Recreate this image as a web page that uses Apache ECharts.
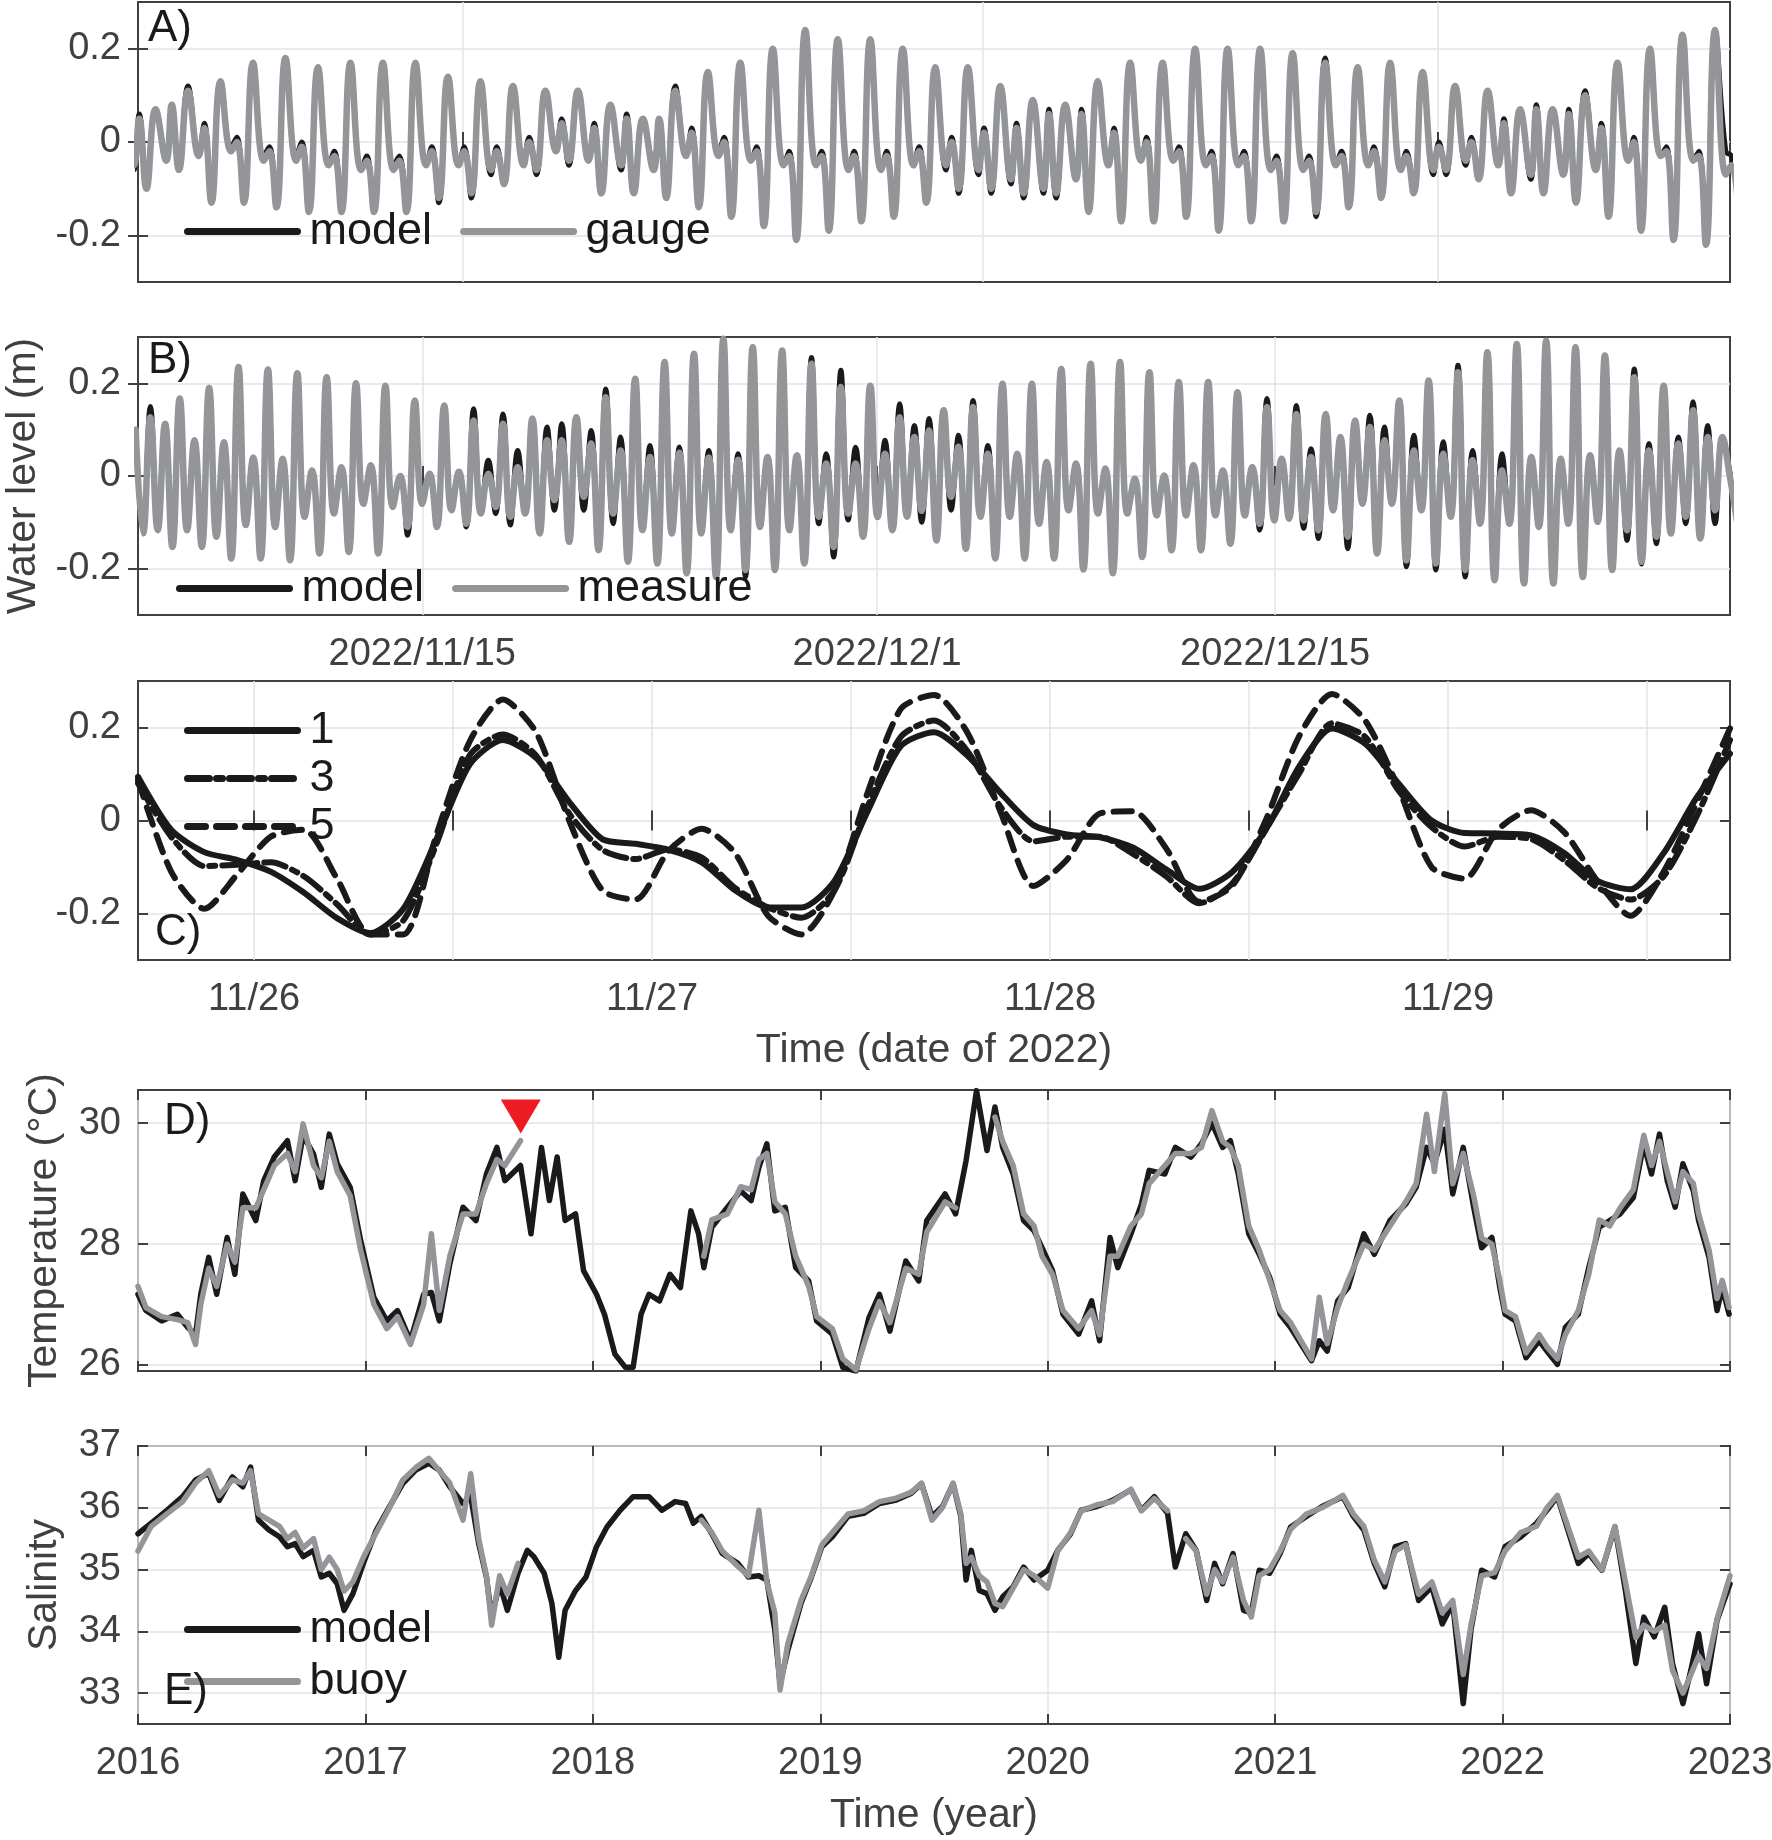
<!DOCTYPE html>
<html>
<head>
<meta charset="utf-8">
<script src="https://cdn.jsdelivr.net/npm/echarts@6/dist/echarts.min.js"></script>
<style>
html, body { margin: 0; padding: 0; background: #fff; }
#main { width: 1772px; height: 1840px; }
</style>
</head>
<body>
<div id="main"></div>
<script>
// ---- A) water level, model vs gauge: per tidal day [higher high, low 1, high 2, lower low]
var aStart = '2022-11-05 00:00', aEnd = '2022-12-24 00:00';
var aFirstPeak = -0.46;            // days after aStart of the first listed higher high
var aPhase = [0, 0.33, 0.5, 0.72]; // position of the four extremes inside a tidal day
var aGauge = [
  0.06,-0.05,0.05,-0.10,  0.07,-0.04,0.08,-0.06,  0.11,-0.03,0.03,-0.13,  0.13,-0.02,0.00,-0.13,
  0.17,-0.04,-0.02,-0.14, 0.18,-0.04,-0.01,-0.15, 0.16,-0.05,-0.03,-0.15, 0.17,-0.06,-0.04,-0.15,
  0.17,-0.06,-0.04,-0.15, 0.17,-0.05,-0.02,-0.12, 0.14,-0.05,-0.02,-0.11, 0.13,-0.06,-0.02,-0.09,
  0.12,-0.05,0.00,-0.06,  0.11,-0.02,0.04,-0.04,  0.11,-0.04,0.03,-0.11,  0.08,-0.05,0.05,-0.11,
  0.05,-0.06,0.05,-0.12,  0.11,-0.03,0.02,-0.14,  0.15,-0.03,0.00,-0.16,  0.17,-0.04,-0.02,-0.18,
  0.20,-0.05,-0.03,-0.21, 0.24,-0.05,-0.03,-0.19, 0.22,-0.06,-0.03,-0.17, 0.22,-0.06,-0.03,-0.16,
  0.20,-0.05,-0.02,-0.13, 0.16,-0.05,0.00,-0.10,  0.16,-0.06,0.02,-0.10,  0.12,-0.08,0.03,-0.11,
  0.09,-0.10,0.06,-0.11,  0.08,-0.08,0.06,-0.15,  0.13,-0.05,0.02,-0.17,  0.17,-0.04,0.00,-0.17,
  0.17,-0.04,-0.02,-0.16, 0.20,-0.05,-0.03,-0.19, 0.20,-0.05,-0.03,-0.17, 0.20,-0.06,-0.04,-0.17,
  0.19,-0.06,-0.04,-0.15, 0.17,-0.05,-0.03,-0.14, 0.16,-0.05,-0.02,-0.12, 0.17,-0.06,-0.03,-0.11,
  0.15,-0.06,-0.01,-0.06, 0.12,-0.04,0.00,-0.08,  0.11,-0.05,0.04,-0.11,  0.07,-0.07,0.07,-0.11,
  0.07,-0.07,0.06,-0.13,  0.10,-0.06,0.03,-0.16,  0.17,-0.04,0.00,-0.19,  0.20,-0.03,-0.02,-0.21,
  0.23,-0.04,-0.03,-0.22, 0.24,-0.07,-0.05,-0.15
];
var aModel = [
  0.06,-0.06,0.06,-0.09,  0.07,-0.03,0.07,-0.06,  0.12,-0.03,0.04,-0.12,  0.13,-0.01,0.01,-0.13,
  0.17,-0.03,-0.01,-0.14, 0.18,-0.03,0.00,-0.15,  0.16,-0.05,-0.02,-0.14, 0.17,-0.06,-0.03,-0.15,
  0.17,-0.05,-0.03,-0.14, 0.16,-0.05,-0.01,-0.13, 0.14,-0.05,-0.01,-0.12, 0.13,-0.07,-0.01,-0.09,
  0.12,-0.04,0.01,-0.07,  0.11,-0.02,0.05,-0.05,  0.11,-0.04,0.04,-0.11,  0.08,-0.06,0.06,-0.11,
  0.05,-0.05,0.05,-0.12,  0.12,-0.03,0.03,-0.14,  0.15,-0.02,0.01,-0.16,  0.17,-0.04,-0.01,-0.18,
  0.20,-0.05,-0.02,-0.21, 0.24,-0.05,-0.02,-0.19, 0.22,-0.06,-0.02,-0.17, 0.22,-0.06,-0.02,-0.16,
  0.20,-0.05,-0.01,-0.13, 0.16,-0.06,0.01,-0.11,  0.16,-0.07,0.03,-0.11,  0.12,-0.09,0.04,-0.12,
  0.09,-0.11,0.07,-0.12,  0.08,-0.08,0.07,-0.15,  0.13,-0.05,0.03,-0.17,  0.17,-0.04,0.01,-0.17,
  0.17,-0.04,-0.01,-0.16, 0.20,-0.05,-0.02,-0.19, 0.20,-0.05,-0.02,-0.17, 0.20,-0.06,-0.03,-0.17,
  0.19,-0.06,-0.03,-0.16, 0.18,-0.05,-0.02,-0.14, 0.16,-0.05,-0.01,-0.12, 0.17,-0.06,-0.02,-0.11,
  0.15,-0.07,0.00,-0.07,  0.12,-0.05,0.01,-0.08,  0.11,-0.05,0.05,-0.11,  0.07,-0.08,0.08,-0.11,
  0.07,-0.07,0.07,-0.13,  0.11,-0.06,0.04,-0.16,  0.17,-0.04,0.01,-0.19,  0.20,-0.03,-0.01,-0.21,
  0.23,-0.04,-0.02,-0.22, 0.24,-0.02,-0.03,-0.12
];

// ---- B) water level, model vs measure: alternating high / low water
var bStart = '2022-11-05 00:00', bEnd = '2022-12-31 00:00';
var bFirstPeak = -0.081;        // days after bStart of the first listed high water
var bPhase = [0, 0.2584];       // high, then low, inside one semi-diurnal cycle
var bMeasure = [
  0.10,-0.124,
  0.127,-0.117, 0.113,-0.153, 0.167,-0.117, 0.077,-0.153, 0.19,-0.131, 0.073,-0.178, 0.235,-0.106, 0.04,-0.178, 0.23,-0.11, 0.037,-0.182,
  0.222,-0.088, 0.012,-0.167, 0.213,-0.081, 0.019,-0.164, 0.2,-0.06, 0.023,-0.167, 0.195,-0.067, 0.0,-0.11, 0.163,-0.06, 0.005,-0.11,
  0.152,-0.074, 0.009,-0.103, 0.12,-0.081, 0.005,-0.067, 0.113,-0.088, 0.019,-0.081, 0.124,-0.124, 0.077,-0.052, 0.077,-0.142, 0.127,-0.045,
  0.07,-0.16, 0.17,-0.081, 0.055,-0.185, 0.21,-0.117, 0.041,-0.189, 0.246,-0.124, 0.05,-0.21, 0.264,-0.124, 0.04,-0.218, 0.296,-0.117,
  0.035,-0.203, 0.278,-0.11, 0.041,-0.203, 0.271,-0.117, 0.045,-0.189, 0.242,-0.088, 0.027,-0.153, 0.192,-0.081, 0.027,-0.131, 0.195,-0.088,
  0.048,-0.117, 0.127,-0.088, 0.084,-0.075,
  0.098,-0.139, 0.142,-0.045, 0.063,-0.157, 0.149,-0.088, 0.048,-0.178, 0.199,-0.088, 0.048,-0.178, 0.199,-0.103, 0.03,-0.178, 0.231,-0.074,
  0.027,-0.202, 0.242,-0.081, 0.016,-0.21, 0.246,-0.081, -0.006,-0.175, 0.224,-0.085, 0.001,-0.16, 0.203,-0.085, 0.023,-0.16, 0.203,-0.085,
  0.012,-0.146, 0.181,-0.085, 0.019,-0.103, 0.149,-0.096, 0.037,-0.092, 0.134,-0.096, 0.041,-0.117, 0.134,-0.074, 0.084,-0.131, 0.12,-0.06,
  0.106,-0.167, 0.077,-0.06, 0.163,-0.182, 0.055,-0.074, 0.206,-0.189, 0.048,-0.088, 0.224,-0.203, 0.034,-0.103, 0.267,-0.225, 0.012,-0.103,
  0.285,-0.232, 0.041,-0.11, 0.292,-0.232, 0.037,-0.103, 0.278,-0.218, 0.045,-0.099, 0.26,-0.203, 0.055,-0.117, 0.213,-0.185, 0.055,-0.131,
  0.195,-0.124, 0.07,-0.088, 0.142,-0.135, 0.084,-0.074,
  0.084, 0.0, -0.1
];
var bModel = [
  0.10,-0.124,
  0.15,-0.117, 0.113,-0.153, 0.167,-0.117, 0.077,-0.153, 0.19,-0.131, 0.073,-0.178, 0.235,-0.106, 0.04,-0.178, 0.23,-0.11, 0.037,-0.182,
  0.222,-0.088, 0.012,-0.167, 0.213,-0.081, 0.019,-0.164, 0.2,-0.06, 0.023,-0.167, 0.195,-0.067, 0.0,-0.128, 0.163,-0.06, 0.005,-0.11,
  0.152,-0.074, 0.009,-0.11, 0.145,-0.081, 0.034,-0.081, 0.134,-0.106, 0.055,-0.081, 0.124,-0.124, 0.106,-0.074, 0.113,-0.142, 0.127,-0.074,
  0.098,-0.16, 0.188,-0.103, 0.084,-0.185, 0.21,-0.117, 0.066,-0.189, 0.246,-0.124, 0.0625,-0.21, 0.264,-0.124, 0.055,-0.218, 0.296,-0.117,
  0.048,-0.218, 0.278,-0.11, 0.041,-0.203, 0.271,-0.117, 0.045,-0.189, 0.256,-0.103, 0.048,-0.175, 0.228,-0.095, 0.062,-0.131, 0.195,-0.09,
  0.077,-0.117, 0.156,-0.088, 0.109,-0.1,
  0.124,-0.139, 0.142,-0.074, 0.088,-0.157, 0.163,-0.088, 0.066,-0.178, 0.199,-0.088, 0.048,-0.178, 0.199,-0.103, 0.03,-0.178, 0.231,-0.074,
  0.027,-0.202, 0.242,-0.081, 0.016,-0.21, 0.246,-0.081, -0.006,-0.175, 0.224,-0.085, 0.001,-0.16, 0.203,-0.085, 0.023,-0.16, 0.203,-0.085,
  0.012,-0.146, 0.181,-0.085, 0.019,-0.117, 0.167,-0.096, 0.037,-0.092, 0.152,-0.113, 0.059,-0.135, 0.134,-0.074, 0.084,-0.157, 0.12,-0.06,
  0.131,-0.167, 0.106,-0.06, 0.163,-0.196, 0.088,-0.074, 0.206,-0.203, 0.074,-0.088, 0.239,-0.218, 0.055,-0.103, 0.267,-0.225, 0.048,-0.103,
  0.285,-0.232, 0.041,-0.11, 0.292,-0.232, 0.037,-0.103, 0.278,-0.218, 0.045,-0.099, 0.26,-0.203, 0.055,-0.139, 0.231,-0.19, 0.07,-0.146,
  0.195,-0.124, 0.084,-0.103, 0.16,-0.135, 0.109,-0.103,
  0.084, 0.01, -0.1
];
var abTicks = ['2022-11-15 00:00', '2022-12-01 00:00', '2022-12-15 00:00'];

// ---- C) three runs, every 2 hours from cStart
var cStart = '2022-11-25 17:00', cEnd = '2022-11-29 17:00';
var cStepHours = 2;
var c1 = [0.094,-0.02,-0.068,-0.085,-0.11,-0.155,-0.21,-0.242,-0.19,-0.04,0.12,0.173,0.135,0.04,-0.04,-0.05,-0.063,-0.09,-0.15,-0.187,
  -0.187,-0.13,0.02,0.16,0.19,0.14,0.06,-0.01,-0.03,-0.036,-0.058,-0.105,-0.147,-0.11,-0.02,0.115,0.198,0.165,0.08,0.0,
  -0.027,-0.028,-0.032,-0.07,-0.13,-0.148,-0.07,0.05,0.144];
var c3 = [0.08,-0.035,-0.098,-0.095,-0.09,-0.12,-0.18,-0.245,-0.215,-0.05,0.14,0.185,0.14,0.015,-0.063,-0.083,-0.062,-0.08,-0.145,-0.187,
  -0.209,-0.15,0.03,0.18,0.215,0.15,0.03,-0.045,-0.035,-0.035,-0.072,-0.12,-0.178,-0.135,-0.02,0.10,0.209,0.18,0.065,-0.014,
  -0.056,-0.035,-0.04,-0.085,-0.144,-0.17,-0.12,0.01,0.173];
var c5 = [0.087,-0.11,-0.19,-0.115,-0.035,-0.02,-0.125,-0.245,-0.245,-0.03,0.17,0.26,0.19,0.0,-0.15,-0.17,-0.065,-0.018,-0.07,-0.205,
  -0.245,-0.15,0.06,0.24,0.27,0.19,0.02,-0.141,-0.085,0.015,0.02,-0.06,-0.175,-0.14,0.0,0.18,0.272,0.215,0.07,-0.10,
  -0.125,-0.02,0.022,-0.025,-0.13,-0.205,-0.11,0.04,0.198];
var cTicks = ['2022-11-26 00:00','2022-11-26 12:00','2022-11-27 00:00','2022-11-27 12:00',
  '2022-11-28 00:00','2022-11-28 12:00','2022-11-29 00:00','2022-11-29 12:00'];
var cLabelDays = ['2022-11-26 00:00','2022-11-27 00:00','2022-11-28 00:00','2022-11-29 00:00'];

// ---- D) temperature [year, value]
var dModel = [[2016.000,27.17],[2016.035,26.9],[2016.104,26.73],[2016.173,26.84],[2016.219,26.62],[2016.253,26.5],[2016.276,27.17],[2016.311,27.78],
  [2016.346,27.17],[2016.392,28.11],[2016.426,27.5],[2016.461,28.83],[2016.518,28.39],[2016.553,29.05],[2016.599,29.44],[2016.657,29.71],
  [2016.691,29.05],[2016.726,29.8],[2016.772,29.49],[2016.806,28.94],[2016.841,29.82],[2016.876,29.33],[2016.933,28.94],[2016.979,28.06],
  [2017.037,27.12],[2017.094,26.73],[2017.141,26.9],[2017.198,26.4],[2017.256,27.17],[2017.290,27.2],[2017.325,26.73],[2017.371,27.67],
  [2017.429,28.61],[2017.486,28.39],[2017.532,29.16],[2017.578,29.6],[2017.613,29.05],[2017.682,29.3],[2017.728,28.17],[2017.774,29.6],
  [2017.809,28.72],[2017.843,29.44],[2017.878,28.39],[2017.924,28.5],[2017.959,27.56],[2018.016,27.17],[2018.051,26.84],[2018.097,26.18],
  [2018.143,25.96],[2018.177,25.96],[2018.212,26.84],[2018.247,27.17],[2018.293,27.06],[2018.339,27.5],[2018.385,27.28],[2018.431,28.55],
  [2018.465,28.17],[2018.488,27.61],[2018.523,28.28],[2018.592,28.61],[2018.650,28.88],[2018.696,28.72],[2018.730,29.27],[2018.765,29.66],
  [2018.800,28.55],[2018.846,28.61],[2018.892,27.61],[2018.949,27.39],[2018.984,26.73],[2019.053,26.51],[2019.099,25.96],[2019.157,25.9],
  [2019.214,26.78],[2019.260,27.17],[2019.306,26.56],[2019.376,27.72],[2019.433,27.39],[2019.468,28.39],[2019.549,28.83],[2019.595,28.5],
  [2019.641,29.38],[2019.687,30.54],[2019.733,29.55],[2019.768,30.27],[2019.802,29.6],[2019.848,29.16],[2019.894,28.39],[2019.940,28.22],
  [2019.975,27.94],[2020.021,27.56],[2020.067,26.84],[2020.136,26.51],[2020.193,27.06],[2020.228,26.4],[2020.274,28.11],[2020.308,27.61],
  [2020.366,28.17],[2020.412,28.66],[2020.446,29.22],[2020.515,29.16],[2020.561,29.6],[2020.630,29.44],[2020.676,29.66],[2020.722,30.0],
  [2020.769,29.6],[2020.803,29.71],[2020.838,29.16],[2020.884,28.17],[2020.930,27.83],[2020.976,27.45],[2021.022,26.84],[2021.068,26.62],
  [2021.114,26.34],[2021.160,26.07],[2021.194,26.4],[2021.229,26.23],[2021.275,27.06],[2021.321,27.28],[2021.390,28.17],[2021.436,27.83],
  [2021.505,28.39],[2021.574,28.66],[2021.620,28.94],[2021.666,29.6],[2021.700,29.33],[2021.746,29.9],[2021.781,28.83],[2021.827,29.6],
  [2021.873,28.61],[2021.908,27.94],[2021.953,28.11],[2021.988,27.28],[2022.011,26.84],[2022.057,26.73],[2022.103,26.12],[2022.161,26.4],
  [2022.195,26.23],[2022.241,26.01],[2022.276,26.62],[2022.333,26.84],[2022.379,27.61],[2022.425,28.28],[2022.471,28.39],[2022.517,28.5],
  [2022.575,28.77],[2022.621,29.66],[2022.655,29.16],[2022.690,29.82],[2022.724,29.05],[2022.759,28.61],[2022.793,29.33],[2022.839,28.88],
  [2022.862,28.39],[2022.908,27.78],[2022.943,26.9],[2022.966,27.28],[2022.996,26.84]];
var dBuoy = [[2016.000,27.3],[2016.035,26.95],[2016.104,26.8],[2016.173,26.75],[2016.219,26.7],[2016.253,26.34],[2016.276,27.0],[2016.311,27.6],
  [2016.346,27.3],[2016.392,28.0],[2016.426,27.7],[2016.461,28.6],[2016.518,28.6],[2016.553,28.9],[2016.599,29.3],[2016.657,29.5],
  [2016.691,29.2],[2016.726,29.99],[2016.772,29.3],[2016.806,29.1],[2016.841,29.7],[2016.876,29.2],[2016.933,28.8],[2016.979,27.9],
  [2017.037,27.0],[2017.094,26.6],[2017.141,26.8],[2017.198,26.34],[2017.256,27.0],[2017.290,28.17],[2017.325,26.9],[2017.371,27.8],
  [2017.429,28.5],[2017.486,28.5],[2017.532,29.0],[2017.578,29.4],[2017.613,29.3],[2017.682,29.71],[2017.70,null],
  [2018.488,27.8],[2018.523,28.4],[2018.592,28.5],[2018.650,28.95],[2018.696,28.9],[2018.730,29.4],[2018.765,29.5],[2018.800,28.7],
  [2018.846,28.5],[2018.892,27.8],[2018.949,27.3],[2018.984,26.8],[2019.053,26.6],[2019.099,26.1],[2019.157,25.92],[2019.214,26.6],
  [2019.260,27.05],[2019.306,26.7],[2019.376,27.6],[2019.433,27.5],[2019.468,28.2],[2019.549,28.7],[2019.595,28.6],[2019.62,null],
  [2019.768,30.1],[2019.802,29.7],[2019.848,29.3],[2019.894,28.5],[2019.940,28.3],[2019.975,27.8],[2020.021,27.5],[2020.067,26.9],
  [2020.136,26.6],[2020.193,26.9],[2020.228,26.5],[2020.274,27.8],[2020.308,27.8],[2020.366,28.3],[2020.412,28.5],[2020.446,29.0],
  [2020.515,29.3],[2020.561,29.5],[2020.630,29.5],[2020.676,29.6],[2020.722,30.21],[2020.769,29.7],[2020.803,29.6],[2020.838,29.3],
  [2020.884,28.3],[2020.930,27.9],[2020.976,27.4],[2021.022,26.9],[2021.068,26.7],[2021.114,26.4],[2021.160,26.1],[2021.194,27.12],
  [2021.229,26.35],[2021.275,26.95],[2021.321,27.4],[2021.390,28.0],[2021.436,27.9],[2021.505,28.3],[2021.574,28.7],[2021.620,29.0],
  [2021.666,30.15],[2021.700,29.2],[2021.746,30.49],[2021.781,29.0],[2021.827,29.5],[2021.873,28.8],[2021.908,28.1],[2021.953,28.0],
  [2021.988,27.4],[2022.011,26.9],[2022.057,26.8],[2022.103,26.2],[2022.161,26.5],[2022.195,26.3],[2022.241,26.1],[2022.276,26.5],
  [2022.333,26.9],[2022.379,27.5],[2022.425,28.4],[2022.471,28.3],[2022.517,28.6],[2022.575,28.9],[2022.621,29.8],[2022.655,29.3],
  [2022.690,29.7],[2022.724,29.2],[2022.759,28.7],[2022.793,29.2],[2022.839,29.0],[2022.862,28.5],[2022.908,27.9],[2022.943,27.1],
  [2022.966,27.4],[2022.996,26.95]];
var dMarker = [2017.683, 30.11];   // red triangle above the last buoy value of 2017

// ---- E) salinity [year, value]
var eModel = [[2016.000,35.58],[2016.058,35.75],[2016.127,35.96],[2016.196,36.18],[2016.253,36.45],[2016.311,36.56],[2016.357,36.12],[2016.415,36.5],
  [2016.461,36.34],[2016.495,36.66],[2016.530,35.8],[2016.576,35.64],[2016.622,35.53],[2016.657,35.37],[2016.691,35.42],[2016.726,35.21],
  [2016.772,35.31],[2016.806,34.88],[2016.841,34.94],[2016.876,34.77],[2016.906,34.34],[2016.945,34.61],[2016.991,35.1],[2017.048,35.64],
  [2017.106,36.02],[2017.164,36.39],[2017.221,36.61],[2017.279,36.72],[2017.325,36.61],[2017.371,36.34],[2017.429,36.07],[2017.463,36.18],
  [2017.498,35.42],[2017.532,34.88],[2017.555,34.23],[2017.590,34.77],[2017.624,34.34],[2017.671,34.94],[2017.712,35.31],[2017.740,35.21],
  [2017.786,34.94],[2017.820,34.45],[2017.850,33.58],[2017.878,34.34],[2017.924,34.66],[2017.970,34.88],[2018.016,35.37],[2018.062,35.69],
  [2018.120,35.96],[2018.177,36.18],[2018.247,36.18],[2018.304,35.96],[2018.362,36.1],[2018.408,36.07],[2018.442,35.75],[2018.477,35.86],
  [2018.523,35.58],[2018.569,35.26],[2018.638,35.1],[2018.684,34.88],[2018.730,34.9],[2018.765,34.83],[2018.800,34.02],[2018.823,33.15],
  [2018.857,33.69],[2018.915,34.45],[2018.961,34.88],[2019.007,35.37],[2019.053,35.53],[2019.122,35.86],[2019.191,35.91],[2019.260,36.07],
  [2019.329,36.12],[2019.399,36.23],[2019.445,36.39],[2019.491,35.86],[2019.537,36.02],[2019.584,36.39],[2019.618,35.86],[2019.641,34.83],
  [2019.664,35.31],[2019.699,34.66],[2019.733,34.61],[2019.768,34.34],[2019.802,34.56],[2019.848,34.72],[2019.894,35.04],[2019.940,34.83],
  [2020.000,34.99],[2020.044,35.31],[2020.101,35.58],[2020.147,35.96],[2020.216,36.02],[2020.285,36.12],[2020.366,36.29],[2020.412,35.96],
  [2020.469,36.18],[2020.527,35.91],[2020.561,35.04],[2020.607,35.58],[2020.653,35.31],[2020.699,34.5],[2020.734,35.1],[2020.769,34.77],
  [2020.815,35.26],[2020.861,34.34],[2020.895,34.3],[2020.930,34.99],[2020.976,34.94],[2021.022,35.26],[2021.068,35.69],[2021.137,35.86],
  [2021.206,36.02],[2021.298,36.18],[2021.344,35.86],[2021.390,35.64],[2021.436,35.1],[2021.482,34.72],[2021.528,35.37],[2021.574,35.42],
  [2021.631,34.5],[2021.689,34.72],[2021.735,34.12],[2021.781,34.45],[2021.827,32.83],[2021.861,34.02],[2021.908,34.99],[2021.965,34.88],
  [2022.011,35.37],[2022.080,35.53],[2022.149,35.75],[2022.195,35.96],[2022.241,36.18],[2022.287,35.64],[2022.333,35.1],[2022.379,35.26],
  [2022.437,34.99],[2022.494,35.69],[2022.540,34.66],[2022.586,33.48],[2022.621,34.23],[2022.667,33.91],[2022.713,34.39],[2022.747,33.48],
  [2022.793,32.83],[2022.828,33.37],[2022.862,33.96],[2022.897,33.15],[2022.943,34.18],[2023.000,34.77]];
var eBuoy = [[2016.000,35.3],[2016.058,35.7],[2016.127,35.9],[2016.196,36.1],[2016.253,36.4],[2016.311,36.6],[2016.357,36.2],[2016.415,36.45],
  [2016.461,36.4],[2016.495,36.6],[2016.530,35.9],[2016.576,35.8],[2016.622,35.7],[2016.657,35.5],[2016.691,35.6],[2016.726,35.35],
  [2016.772,35.5],[2016.806,35.0],[2016.841,35.2],[2016.876,35.0],[2016.906,34.65],[2016.945,34.8],[2016.991,35.2],[2017.048,35.6],
  [2017.106,36.0],[2017.164,36.45],[2017.221,36.65],[2017.279,36.8],[2017.325,36.6],[2017.371,36.4],[2017.429,35.8],[2017.463,36.55],
  [2017.498,35.5],[2017.532,34.9],[2017.555,34.1],[2017.590,34.9],[2017.624,34.6],[2017.671,35.1],[2017.69,null],
  [2018.477,35.8],[2018.523,35.6],[2018.569,35.3],[2018.638,35.05],[2018.684,34.9],[2018.730,35.96],[2018.765,34.8],[2018.800,34.3],
  [2018.823,33.05],[2018.857,33.8],[2018.915,34.5],[2018.961,34.9],[2019.007,35.4],[2019.053,35.6],[2019.122,35.9],[2019.191,35.95],
  [2019.260,36.1],[2019.329,36.15],[2019.399,36.25],[2019.445,36.4],[2019.491,35.8],[2019.537,36.0],[2019.584,36.4],[2019.618,35.9],
  [2019.641,35.1],[2019.664,35.2],[2019.699,34.9],[2019.733,34.8],[2019.768,34.45],[2019.802,34.4],[2019.848,34.7],[2019.894,35.0],
  [2019.940,34.9],[2020.000,34.7],[2020.044,35.3],[2020.101,35.6],[2020.147,35.95],[2020.216,36.05],[2020.285,36.1],[2020.366,36.3],
  [2020.412,35.95],[2020.469,36.15],[2020.527,35.95],[2020.545,null],[2020.607,35.5],[2020.653,35.3],[2020.699,34.6],[2020.734,35.0],
  [2020.769,34.8],[2020.815,35.2],[2020.861,34.5],[2020.895,34.23],[2020.930,34.9],[2020.976,35.0],[2021.022,35.3],[2021.068,35.65],
  [2021.137,35.9],[2021.206,36.0],[2021.298,36.2],[2021.344,35.9],[2021.390,35.7],[2021.436,35.15],[2021.482,34.8],[2021.528,35.3],
  [2021.574,35.4],[2021.631,34.6],[2021.689,34.8],[2021.735,34.3],[2021.781,34.5],[2021.827,33.3],[2021.861,34.1],[2021.908,34.9],
  [2021.965,34.95],[2022.011,35.3],[2022.080,35.6],[2022.149,35.7],[2022.195,36.0],[2022.241,36.2],[2022.287,35.7],[2022.333,35.2],
  [2022.379,35.3],[2022.437,35.0],[2022.494,35.7],[2022.540,34.8],[2022.586,33.9],[2022.621,34.1],[2022.667,34.0],[2022.713,34.1],
  [2022.747,33.37],[2022.793,33.0],[2022.828,33.3],[2022.862,33.6],[2022.897,33.4],[2022.943,34.2],[2023.000,34.9]];

var waterTicks = [-0.2, 0, 0.2];
var tempTicks = [26, 28, 30];
var salTicks = [33, 34, 35, 36, 37];
var yearMin = 2016, yearMax = 2023;

// ---------------------------------------------------------------------------
var FONT = "'Liberation Sans', Arial, Helvetica, sans-serif";
var AXIS = '#404040', GRIDC = '#e3e3e3', BLACK = '#1a1a1a', GRAY = '#939598';
var DAY = 86400000;

// dates are handled as day numbers (UTC) counted from the first date of panel A
function ms(s) { return Date.parse(s.replace(' ', 'T') + ':00Z'); }
var REF = ms(aStart);
function dayNum(s) { return (ms(s) - REF) / DAY; }
function dayDate(v) { return new Date(REF + Math.round(v * 24) * 3600000); }

function tide(start, first, period, phase, vals) {
  var d0 = dayNum(start), out = [];
  for (var i = 0; i < vals.length; i++) {
    var d = first + Math.floor(i / phase.length) * period + phase[i % phase.length];
    out.push([d0 + d, vals[i]]);
  }
  return out;
}
function stepped(start, hours, vals) {
  var d0 = dayNum(start);
  return vals.map(function (v, i) { return [d0 + i * hours / 24, v]; });
}

var grids = [
  { top: 2, height: 280 }, { top: 337, height: 278 }, { top: 681, height: 279 },
  { top: 1090, height: 281 }, { top: 1446, height: 278 }
].map(function (g) {
  return { left: 138, right: 42, top: g.top, height: g.height, show: true,
    outerBoundsMode: 'none', containLabel: false,
    borderColor: AXIS, borderWidth: 2, backgroundColor: 'transparent' };
});

function tick(custom) {
  var t = { show: true, inside: true, length: 10, lineStyle: { color: AXIS, width: 2 } };
  if (custom) t.customValues = custom;
  return t;
}
var labelStyle = { color: AXIS, fontSize: 38, fontFamily: FONT };
var nameStyle = { color: AXIS, fontSize: 41, fontFamily: FONT };
var split = { show: true, lineStyle: { color: GRIDC, width: 1.5 } };
function plain(v) { return String(v); }

function xPair(g, base, extra) {
  var bottom = Object.assign({ gridIndex: g, position: 'bottom', axisLine: { show: false },
    splitLine: split, axisLabel: { show: false } }, base, extra || {});
  var top = Object.assign({ gridIndex: g, position: 'top', axisLine: { show: false },
    splitLine: { show: false }, axisLabel: { show: false } }, base);
  return [bottom, top];
}
function yPair(g, base, extra) {
  var left = Object.assign({ gridIndex: g, position: 'left', axisLine: { show: false },
    splitLine: split, axisLabel: Object.assign({ margin: 17 }, labelStyle,
      { customValues: base.axisTick.customValues, formatter: plain }) },
    base, extra || {});
  var right = Object.assign({ gridIndex: g, position: 'right', axisLine: { show: false },
    splitLine: { show: false }, axisLabel: { show: false } }, base);
  return [left, right];
}

var abDays = abTicks.map(dayNum);
var cTickDays = cTicks.map(dayNum), cLabelNums = cLabelDays.map(dayNum);

var xAxes = [].concat(
  xPair(0, { type: 'value', min: dayNum(aStart), max: dayNum(aEnd), axisTick: tick(abDays) }),
  xPair(1, { type: 'value', min: dayNum(bStart), max: dayNum(bEnd), axisTick: tick(abDays) }, {
    axisLabel: Object.assign({ show: true, margin: 21, customValues: abDays,
      formatter: function (v) { var d = dayDate(v); return d.getUTCFullYear() + '/' + (d.getUTCMonth() + 1) + '/' + d.getUTCDate(); } }, labelStyle)
  }),
  xPair(2, { type: 'value', min: dayNum(cStart), max: dayNum(cEnd), axisTick: tick(cTickDays) }, {
    axisLabel: Object.assign({ show: true, margin: 21, customValues: cLabelNums,
      formatter: function (v) { var d = dayDate(v); return (d.getUTCMonth() + 1) + '/' + d.getUTCDate(); } }, labelStyle),
    name: 'Time (date of 2022)', nameLocation: 'middle', nameGap: 70, nameTextStyle: nameStyle
  }),
  xPair(3, { type: 'value', min: yearMin, max: yearMax, interval: 1, axisTick: tick() }),
  xPair(4, { type: 'value', min: yearMin, max: yearMax, interval: 1, axisTick: tick() }, {
    axisLabel: Object.assign({ show: true, margin: 21, formatter: plain }, labelStyle),
    name: 'Time (year)', nameLocation: 'middle', nameGap: 71, nameTextStyle: nameStyle
  })
);

var yAxes = [].concat(
  yPair(0, { type: 'value', min: -0.3, max: 0.3, axisTick: tick(waterTicks) }),
  yPair(1, { type: 'value', min: -0.3, max: 0.3, axisTick: tick(waterTicks) }, {
    name: 'Water level (m)', nameLocation: 'middle', nameGap: 94, nameTextStyle: nameStyle
  }),
  yPair(2, { type: 'value', min: -0.3, max: 0.3, axisTick: tick(waterTicks) }),
  yPair(3, { type: 'value', min: 25.9, max: 30.55, axisTick: tick(tempTicks) }, {
    name: 'Temperature (°C)', nameLocation: 'middle', nameGap: 73, nameTextStyle: nameStyle
  }),
  yPair(4, { type: 'value', min: 32.5, max: 37, axisTick: tick(salTicks) }, {
    name: 'Salinity', nameLocation: 'middle', nameGap: 73, nameTextStyle: nameStyle
  })
);

function line(name, g, data, color, width, extra) {
  return Object.assign({ name: name, type: 'line', xAxisIndex: 2 * g, yAxisIndex: 2 * g,
    data: data, symbol: 'none', showSymbol: false, clip: true, connectNulls: false,
    lineStyle: { color: color, width: width, cap: 'round', join: 'round' },
    itemStyle: { color: color }, emphasis: { disabled: true } }, extra || {});
}

var series = [
  line('A model', 0, tide(aStart, aFirstPeak, 1, aPhase, aModel), BLACK, 5, { smooth: 0.45 }),
  line('A gauge', 0, tide(aStart, aFirstPeak, 1, aPhase, aGauge), GRAY, 6.5, { smooth: 0.45 }),
  line('B model', 1, tide(bStart, bFirstPeak, 2 * bPhase[1], bPhase, bModel), BLACK, 5, { smooth: 0.45 }),
  line('B measure', 1, tide(bStart, bFirstPeak, 2 * bPhase[1], bPhase, bMeasure), GRAY, 6.5, { smooth: 0.45 }),
  line('C 1', 2, stepped(cStart, cStepHours, c1), BLACK, 6, { smooth: 0.25 }),
  line('C 3', 2, stepped(cStart, cStepHours, c3), BLACK, 6, { smooth: 0.25 }),
  line('C 5', 2, stepped(cStart, cStepHours, c5), BLACK, 6, { smooth: 0.25 }),
  line('D model', 3, dModel, BLACK, 5.5),
  line('D buoy', 3, dBuoy, GRAY, 5.5, {
    markPoint: { symbol: 'triangle', symbolSize: [40, 34], symbolRotate: 180, silent: true,
      itemStyle: { color: '#ed1c24' }, label: { show: false }, data: [{ coord: dMarker }] }
  }),
  line('E model', 4, eModel, BLACK, 5.5),
  line('E buoy', 4, eBuoy, GRAY, 5.5)
];
series[5].lineStyle.type = [22, 7, 6, 7];
series[6].lineStyle.type = [18, 11];

function legend(names, left, top, orient, gap) {
  return { data: names, left: left, top: top, orient: orient, itemGap: gap, padding: 0,
    itemWidth: 110, itemHeight: 20, selectedMode: false,
    formatter: function (n) { return n.split(' ')[1]; },
    itemStyle: { opacity: 0 },
    lineStyle: { width: 7 },
    textStyle: { color: BLACK, fontSize: 45, fontFamily: FONT, padding: [0, 0, 0, 7] } };
}

function panelTag(text, left, top) {
  return { text: text, left: left, top: top, padding: 0,
    textStyle: { color: BLACK, fontSize: 44, fontWeight: 'normal', fontFamily: FONT } };
}

var option = {
  animation: false,
  backgroundColor: '#fff',
  title: [panelTag('A)', 148, 7), panelTag('B)', 148, 339), panelTag('C)', 155, 911),
    panelTag('D)', 164, 1100), panelTag('E)', 164, 1670)],
  legend: [
    legend(['A model', 'A gauge'], 184, 209, 'horizontal', 28),
    legend(['B model', 'B measure'], 176, 566, 'horizontal', 28),
    legend(['C 1', 'C 3', 'C 5'], 184, 708, 'vertical', 3),
    legend(['E model', 'E buoy'], 184, 1607, 'vertical', 7)
  ],
  grid: grids,
  xAxis: xAxes,
  yAxis: yAxes,
  series: series
};

var myChart = echarts.init(document.getElementById('main'), null, { renderer: 'canvas' });
myChart.setOption(option);
</script>
</body>
</html>
